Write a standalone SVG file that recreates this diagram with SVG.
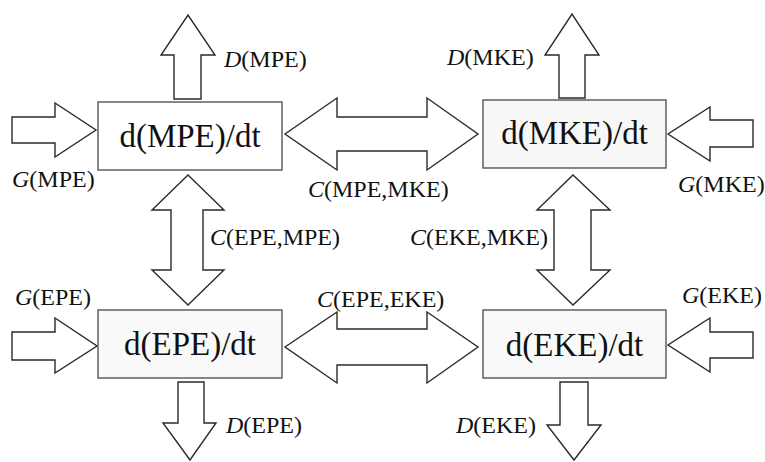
<svg xmlns="http://www.w3.org/2000/svg" width="765" height="462" viewBox="0 0 765 462">
<style>
.box{stroke:#555;stroke-width:1.4;}
.arr{fill:#fff;stroke:#2a2a2a;stroke-width:1.4;stroke-linejoin:miter;}
.nt{font-family:"Liberation Serif",serif;font-size:33px;fill:#111;text-anchor:middle;}
.lb{font-family:"Liberation Serif",serif;font-size:24px;fill:#111;}
.i{font-style:italic;}
</style>
<rect width="765" height="462" fill="#fff"/>
<g id="connectors">
<polygon class="arr" points="174,99 174,55 161,55 188,15 215,55 201,55 201,99"/>
<polygon class="arr" points="12,117 55,117 55,103 96,130 55,157 55,143 12,143"/>
<polygon class="arr" points="285,134 337,98 337,117 427,117 427,98 478,134 427,170 427,151 337,151 337,170"/>
<polygon class="arr" points="559,98 559,55 545,55 572,14 599,55 585,55 585,98"/>
<polygon class="arr" points="753,120 710,120 710,107 668,134 710,161 710,147 753,147"/>
<polygon class="arr" points="188,175 224,210 203,210 203,270 224,270 188,305 152,270 171,270 171,210 152,210"/>
<polygon class="arr" points="573,175 610,210 591,210 591,270 610,270 573,305 537,270 554,270 554,210 537,210"/>
<polygon class="arr" points="285,347 337,312 337,329 427,329 427,312 478,347 427,383 427,365 337,365 337,383"/>
<polygon class="arr" points="12,332 55,332 55,318 97,346 55,373 55,360 12,360"/>
<polygon class="arr" points="178,382 204,382 204,423 216,423 190,460 163,423 178,423"/>
<polygon class="arr" points="753,332 710,332 710,318 668,345 710,372 710,358 753,358"/>
<polygon class="arr" points="560,382 588,382 588,425 601,425 574,460 547,425 560,425"/>
<text class="lb" x="224" y="67"><tspan class="i">D</tspan>(MPE)</text>
<text class="lb" x="12" y="187"><tspan class="i">G</tspan>(MPE)</text>
<text class="lb" x="308" y="197"><tspan class="i">C</tspan>(MPE,MKE)</text>
<text class="lb" x="447" y="65"><tspan class="i">D</tspan>(MKE)</text>
<text class="lb" x="678" y="192"><tspan class="i">G</tspan>(MKE)</text>
<text class="lb" x="210" y="245"><tspan class="i">C</tspan>(EPE,MPE)</text>
<text class="lb" x="410" y="245"><tspan class="i">C</tspan>(EKE,MKE)</text>
<text class="lb" x="15" y="305"><tspan class="i">G</tspan>(EPE)</text>
<text class="lb" x="317" y="307"><tspan class="i">C</tspan>(EPE,EKE)</text>
<text class="lb" x="682" y="303"><tspan class="i">G</tspan>(EKE)</text>
<text class="lb" x="226" y="433"><tspan class="i">D</tspan>(EPE)</text>
<text class="lb" x="456" y="433"><tspan class="i">D</tspan>(EKE)</text>
</g>
<g id="node-mpe">
<rect class="box" x="98" y="102" width="184" height="68" fill="#fff"/>
<text class="nt" x="190" y="147">d(MPE)/dt</text>
</g>
<g id="node-mke">
<rect class="box" x="483" y="100" width="183" height="68" fill="#f7f7f7"/>
<text class="nt" x="574.5" y="144">d(MKE)/dt</text>
</g>
<g id="node-epe">
<rect class="box" x="98" y="310" width="184" height="68" fill="#f9f9f9"/>
<text class="nt" x="190" y="355">d(EPE)/dt</text>
</g>
<g id="node-eke">
<rect class="box" x="483" y="310" width="183" height="68" fill="#f9f9f9"/>
<text class="nt" x="574.5" y="356">d(EKE)/dt</text>
</g>
</svg>
